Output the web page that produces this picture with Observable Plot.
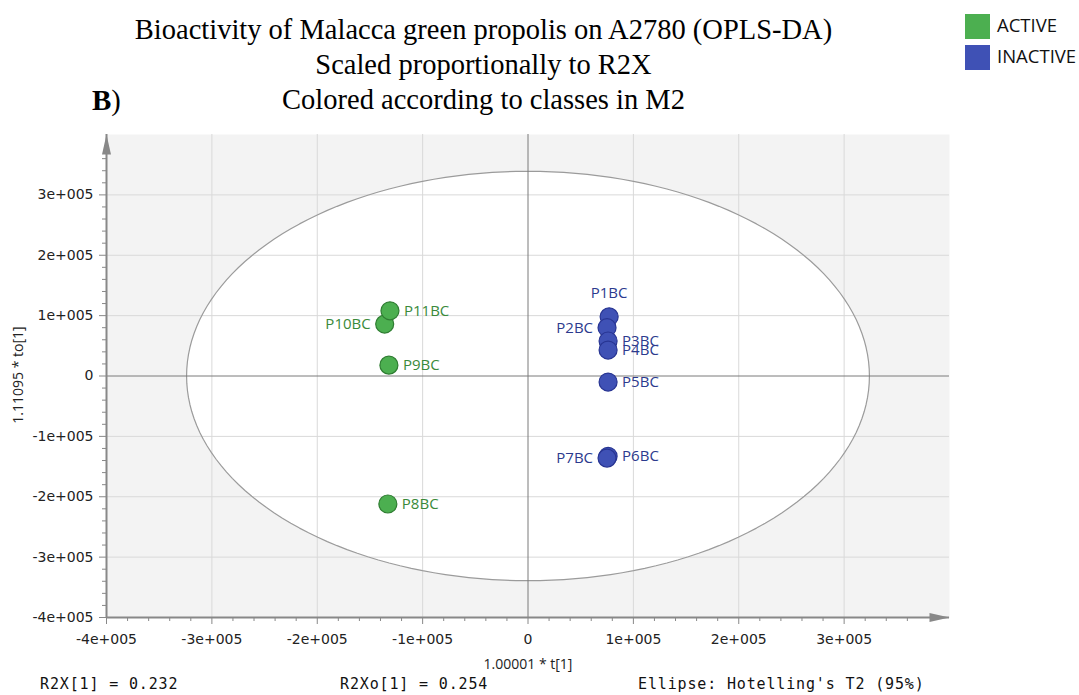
<!DOCTYPE html>
<html><head><meta charset="utf-8">
<script src="https://cdn.jsdelivr.net/npm/d3@7"></script>
<script src="https://cdn.jsdelivr.net/npm/@observablehq/plot@0.6"></script>
<style>
body{margin:0;background:#fff;}
#wrap{position:relative;width:1079px;height:695px;overflow:hidden;}
#wrap svg{position:absolute;left:0;top:0;}
.t{position:absolute;white-space:nowrap;line-height:1;}
.title{left:0;width:967px;text-align:center;font-family:"Liberation Serif","Times New Roman",serif;font-size:28.5px;color:#000;}
.mono{font-family:"DejaVu Sans Mono","Liberation Mono",monospace;font-size:15px;letter-spacing:0.85px;color:#111;top:677px;}
.lg{position:absolute;left:965px;width:25px;height:25px;}
.lgt{position:absolute;left:997px;font-family:"Open Sans","Noto Sans",sans-serif;font-size:18.5px;color:#111;line-height:1;}
.axl{font-family:"Open Sans","Noto Sans",sans-serif;font-size:14px;color:#222;}
</style></head><body><div id="wrap"></div>
<script>
// ---- data ----
const samples  = ["P1BC","P2BC","P3BC","P4BC","P5BC","P6BC","P7BC","P8BC","P9BC","P10BC","P11BC"];
const tScores  = [77000, 75000, 76000, 76000, 76000, 76000, 75000, -133000, -132000, -136000, -131000];
const toScores = [98000, 80000, 58000, 43000, -10000, -133000, -136000, -212000, 18000, 86000, 108000];
const classes  = ["INACTIVE","INACTIVE","INACTIVE","INACTIVE","INACTIVE","INACTIVE","INACTIVE","ACTIVE","ACTIVE","ACTIVE","ACTIVE"];
const classNames = ["ACTIVE","INACTIVE"];
const classFill  = ["#4caf50","#3f51b5"];
const classStroke= ["#2f7d32","#283593"];
const classText  = ["#3a8a3a","#2c3a8e"];
const xTickValues = [-400000,-300000,-200000,-100000,0,100000,200000,300000];
const yTickValues = [-400000,-300000,-200000,-100000,0,100000,200000,300000];
const ellipseT  = 324000;   // Hotelling's T2 95% semi-axis, t[1]
const ellipseTo = 339000;   // Hotelling's T2 95% semi-axis, to[1]
const titleLines = ["Bioactivity of Malacca green propolis on A2780 (OPLS-DA)","Scaled proportionally to R2X","Colored according to classes in M2"];
const xLabel = "1.00001 * t[1]";
const yLabel = "1.11095 * to[1]";
const footer = ["R2X[1] = 0.232","R2Xo[1] = 0.254","Ellipse: Hotelling's T2 (95%)"];

const leftLabels = new Set(["P10BC","P2BC","P7BC"]);
const aboveLabels = new Set(["P1BC"]);

const ci = c => classNames.indexOf(c);
const pts = samples.map((s,i)=>({name:s,t:tScores[i],to:toScores[i],cls:classes[i],
  fill:classFill[ci(classes[i])],stroke:classStroke[ci(classes[i])],tc:classText[ci(classes[i])]}));
const ell = d3.range(0,361,2).map(a=>({t:ellipseT*Math.cos(a*Math.PI/180),to:ellipseTo*Math.sin(a*Math.PI/180)}));
const fmt = d => d===0 ? "0" : `${d/1e5}e+005`;
const minorX = d3.range(-400000,370000,20000).filter(v=>v%100000!==0);
const minorY = minorX;
const gridVals = xTickValues.filter(v=>v!==0 && v!==-400000);
const arrowSym = {draw(ctx){ctx.moveTo(0,0);ctx.lineTo(4.5,20);ctx.lineTo(-4.5,20);ctx.closePath();}};
const xMin=-400000,xMax=400000,yMin=-400000,yMax=400000;

const lblFont = {fontFamily:"'Open Sans','Noto Sans',sans-serif",fontSize:15};
const plot = Plot.plot({
  width:1079,height:695,
  marginTop:134,marginBottom:78,marginLeft:106,marginRight:130,
  style:{fontFamily:"'DejaVu Sans',sans-serif",fontSize:"14px",color:"#222",background:"transparent"},
  x:{domain:[xMin,xMax],label:null},
  y:{domain:[yMin,yMax],label:null},
  color:{type:"identity"},
  marks:[
    Plot.frame({fill:"#f3f3f3",stroke:null}),
    Plot.line(ell,{x:"t",y:"to",fill:"white",stroke:"none",curve:"linear-closed"}),
    Plot.gridX(gridVals,{stroke:"#d9d9d9",strokeOpacity:1}),
    Plot.gridY(gridVals,{stroke:"#d9d9d9",strokeOpacity:1}),
    Plot.line(ell,{x:"t",y:"to",stroke:"#9b9b9b",strokeWidth:1.2,curve:"linear-closed"}),
    Plot.ruleX([0],{stroke:"#7a7a7a"}),
    Plot.ruleY([0],{stroke:"#7a7a7a"}),
    Plot.axisX(minorX,{tickSize:4,tickFormat:()=>"",stroke:"#888",label:null}),
    Plot.axisY(minorY,{tickSize:4,tickFormat:()=>"",stroke:"#888",label:null}),
    Plot.axisX(xTickValues,{tickSize:7,tickPadding:10,tickFormat:fmt,stroke:"#888",fill:"#222",label:null}),
    Plot.axisY(yTickValues,{tickSize:7,tickPadding:6,tickFormat:fmt,stroke:"#888",fill:"#222",label:null}),
    Plot.ruleY([yMin],{stroke:"#888",strokeWidth:2}),
    Plot.ruleX([xMin],{stroke:"#888",strokeWidth:2}),
    Plot.dot([{x:xMin,y:yMax}],{x:"x",y:"y",symbol:arrowSym,fill:"#888",stroke:"none"}),
    Plot.dot([{x:xMax,y:yMin}],{x:"x",y:"y",symbol:arrowSym,fill:"#888",stroke:"none",rotate:90}),
    Plot.dot(pts,{x:"t",y:"to",r:9,fill:"fill",stroke:"stroke",strokeWidth:1.2}),
    Plot.text(pts.filter(d=>!leftLabels.has(d.name)&&!aboveLabels.has(d.name)),{x:"t",y:"to",text:"name",fill:"tc",textAnchor:"start",dx:14,...lblFont}),
    Plot.text(pts.filter(d=>leftLabels.has(d.name)),{x:"t",y:"to",text:"name",fill:"tc",textAnchor:"end",dx:-14,...lblFont}),
    Plot.text(pts.filter(d=>aboveLabels.has(d.name)),{x:"t",y:"to",text:"name",fill:"tc",textAnchor:"middle",dy:-24,...lblFont})
  ]
});
const wrap = document.getElementById("wrap");
wrap.appendChild(plot);

function addDiv(cls, text, css){const d=document.createElement("div");d.className=cls;d.textContent=text;Object.assign(d.style,css);wrap.appendChild(d);return d;}
titleLines.forEach((l,i)=>addDiv("t title",l,{top:(16+i*35)+"px"}));
const b = addDiv("t title","",{left:"92px",width:"auto",top:"86px",textAlign:"left"});
b.innerHTML="<b style='font-size:29px'>B</b>)";
classNames.forEach((c,i)=>{
  const sq=document.createElement("div");sq.className="lg";sq.style.top=(14+i*31)+"px";sq.style.background=classFill[i];wrap.appendChild(sq);
  addDiv("lgt",c,{top:(16+i*31)+"px"});
});
addDiv("t axl",xLabel,{left:"0",width:"1056px",textAlign:"center",top:"657px"});
addDiv("t axl",yLabel,{left:"18px",top:"375px",transform:"translate(-50%,-50%) rotate(-90deg)"});
addDiv("t mono",footer[0],{left:"40px"});
addDiv("t mono",footer[1],{left:"340px"});
addDiv("t mono",footer[2],{left:"638px"});
</script></body></html>
